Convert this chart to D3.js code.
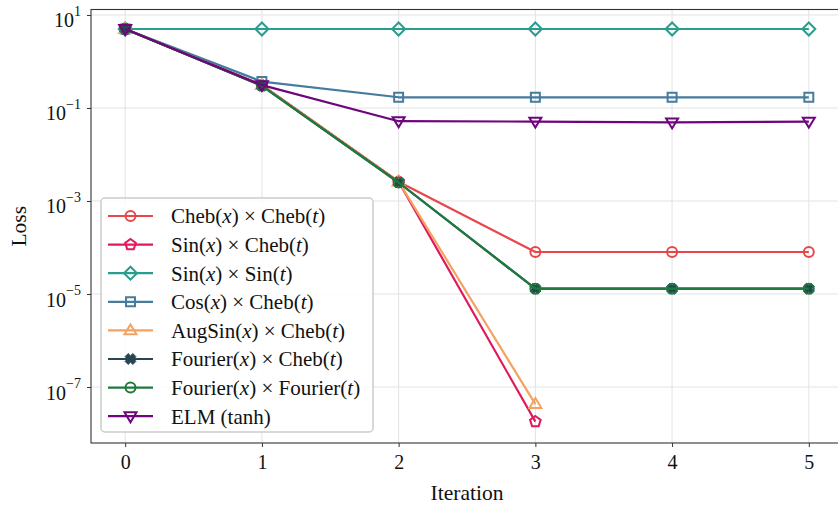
<!DOCTYPE html>
<html>
<head>
<meta charset="utf-8">
<script src="https://cdn.jsdelivr.net/npm/d3@7"></script>
<style>
  html, body { margin: 0; padding: 0; background: #fff; }
  svg { display: block; font-family: "Liberation Serif", "DejaVu Serif", serif; }
</style>
</head>
<body>
<svg id="chart" width="838" height="505"></svg>
<script>
// Training loss per outer iteration for each basis combination
const iterations = [0, 1, 2, 3, 4, 5];

const chebCheb       = [5.0, 0.31, 2.6e-3, 8.0e-5, 8.0e-5, 8.0e-5];
const sinCheb        = [5.0, 0.31, 2.6e-3, 1.8e-8];
const sinSin         = [5.0, 5.0, 5.0, 5.0, 5.0, 5.0];
const cosCheb        = [5.0, 0.37, 0.17, 0.17, 0.17, 0.17];
const augSinCheb     = [5.0, 0.31, 2.6e-3, 4.3e-8];
const fourierCheb    = [5.0, 0.30, 2.5e-3, 1.3e-5, 1.3e-5, 1.3e-5];
const fourierFourier = [5.0, 0.30, 2.5e-3, 1.3e-5, 1.3e-5, 1.3e-5];
const elmTanh        = [5.0, 0.31, 0.052, 0.051, 0.049, 0.051];

// Legend labels ($...$ marks italic variables)
const seriesLabels = [
  "Cheb($x$) × Cheb($t$)",
  "Sin($x$) × Cheb($t$)",
  "Sin($x$) × Sin($t$)",
  "Cos($x$) × Cheb($t$)",
  "AugSin($x$) × Cheb($t$)",
  "Fourier($x$) × Cheb($t$)",
  "Fourier($x$) × Fourier($t$)",
  "ELM (tanh)"
];
const seriesValues = [chebCheb, sinCheb, sinSin, cosCheb, augSinCheb, fourierCheb, fourierFourier, elmTanh];

const xTickValues = [0, 1, 2, 3, 4, 5];
const yTickExponents = [1, -1, -3, -5, -7];

// Styling per series
const seriesStyle = [
  { color: "#e8464b", symbol: "circle",   fill: "none" },
  { color: "#df1a5c", symbol: "pentagon", fill: "none" },
  { color: "#2a9d8f", symbol: "diamond",  fill: "none" },
  { color: "#457b9d", symbol: "square",   fill: "none" },
  { color: "#f4a261", symbol: "triangle", fill: "none" },
  { color: "#264653", symbol: "xfilled",  fill: "#264653" },
  { color: "#1f7a3e", symbol: "circle",   fill: "none" },
  { color: "#6e057c", symbol: "tridown",  fill: "none" }
];

const svg = d3.select("#chart");
const plotLeft = 91, plotRight = 843, plotTop = 9.5, plotBottom = 443;

const x = d3.scaleLinear().domain([-0.25, 5.25]).range([plotLeft, plotRight]);
const y = d3.scaleLog().domain([Math.pow(10, -8.204), Math.pow(10, 1.118)]).range([plotBottom, plotTop]);

// Grid
const grid = svg.append("g");
grid.selectAll("line.gx").data(xTickValues).join("line")
  .attr("x1", d => x(d)).attr("x2", d => x(d))
  .attr("y1", plotTop).attr("y2", plotBottom)
  .attr("stroke", "#e3e3e3").attr("stroke-width", 1);
grid.selectAll("line.gy").data(yTickExponents).join("line")
  .attr("x1", plotLeft).attr("x2", plotRight)
  .attr("y1", d => y(Math.pow(10, d))).attr("y2", d => y(Math.pow(10, d)))
  .attr("stroke", "#e3e3e3").attr("stroke-width", 1);

// Axes
const xAxis = d3.axisBottom(x).tickValues(xTickValues).tickFormat(d3.format("d")).tickSize(4).tickPadding(8);
const gx = svg.append("g").attr("transform", `translate(0,${plotBottom})`).call(xAxis);
gx.select(".domain").remove();
gx.selectAll(".tick line").attr("stroke", "#333");
gx.selectAll(".tick text").attr("font-size", 20).attr("fill", "#111")
  .attr("font-family", "Liberation Serif, serif");

const yAxis = d3.axisLeft(y).tickValues(yTickExponents.map(e => Math.pow(10, e))).tickSize(4).tickFormat("");
const gy = svg.append("g").attr("transform", `translate(${plotLeft},0)`).call(yAxis);
gy.select(".domain").remove();
gy.selectAll(".tick line").attr("stroke", "#333");
gy.selectAll(".tick").each(function(d) {
  const e = Math.round(Math.log10(d));
  const t = d3.select(this).select("text")
    .attr("font-size", 20).attr("fill", "#111").attr("x", -10).attr("dy", "0.6em")
    .attr("font-family", "Liberation Serif, serif");
  t.text(null);
  t.append("tspan").text("10");
  t.append("tspan").attr("dy", "-0.8em").attr("font-size", 14)
    .text(e < 0 ? "\u2212" + Math.abs(e) : String(e));
});

// Marker outlines
function symbolPath(style) {
  const s = style.symbol;
  if (s === "circle") {
    return d3.symbol().type(d3.symbolCircle).size(78)();
  }
  if (s === "square") {
    return d3.symbol().type(d3.symbolSquare).size(80)();
  }
  if (s === "triangle") {
    const r = 6;
    return `M0,${-r}L${r},${r * 0.65}L${-r},${r * 0.65}Z`;
  }
  if (s === "tridown") {
    const r = 6;
    return `M${-r},${-r * 0.65}L${r},${-r * 0.65}L0,${r}Z`;
  }
  if (s === "pentagon") {
    const r = 5.6, pts = [];
    for (let i = 0; i < 5; i++) {
      const a = -Math.PI / 2 + i * 2 * Math.PI / 5;
      pts.push([r * Math.cos(a), r * Math.sin(a)]);
    }
    return "M" + pts.map(p => p.join(",")).join("L") + "Z";
  }
  if (s === "diamond") {
    const r = 6.5;
    return `M0,${-r}L${r},0L0,${r}L${-r},0Z`;
  }
  if (s === "xfilled") {
    // thick filled X
    const a = 5.5, w = 2.2;
    const pts = [];
    for (let i = 0; i < 4; i++) {
      const ang = Math.PI / 4 + i * Math.PI / 2;
      const c = Math.cos(ang), sn = Math.sin(ang);
      const px = -sn, py = c;
      pts.push([a * c + w * px * -1, a * sn + w * py * -1]);
      pts.push([a * c + w * px, a * sn + w * py]);
      const ang2 = ang + Math.PI / 4;
      pts.push([w * 1.414 * Math.cos(ang2), w * 1.414 * Math.sin(ang2)]);
    }
    return "M" + pts.map(p => p.join(",")).join("L") + "Z";
  }
  return d3.symbol().type(d3.symbolCircle).size(78)();
}

// Lines and markers
const line = d3.line().x((d, i) => x(iterations[i])).y(d => y(d));
const plot = svg.append("g");
seriesValues.forEach((vals, k) => {
  const st = seriesStyle[k];
  const g = plot.append("g");
  g.append("path").datum(vals).attr("d", line)
    .attr("fill", "none").attr("stroke", st.color).attr("stroke-width", 2.2)
    .attr("stroke-linejoin", "round");
  const p = symbolPath(st);
  g.selectAll("path.m").data(vals).join("path").attr("class", "m")
    .attr("d", p)
    .attr("transform", (d, i) => `translate(${x(iterations[i])},${y(d)})`)
    .attr("fill", st.fill).attr("stroke", st.color)
    .attr("stroke-width", st.symbol === "xfilled" ? 1 : 2);
});

// Frame
svg.append("rect").attr("x", plotLeft).attr("y", plotTop)
  .attr("width", plotRight - plotLeft).attr("height", plotBottom - plotTop)
  .attr("fill", "none").attr("stroke", "#333").attr("stroke-width", 1.1);

// Axis titles
svg.append("text").attr("x", (plotLeft + plotRight) / 2).attr("y", 500)
  .attr("text-anchor", "middle").attr("font-size", 21.5).attr("fill", "#111").text("Iteration");
svg.append("text").attr("transform", `translate(26,${(plotTop + plotBottom) / 2}) rotate(-90)`)
  .attr("text-anchor", "middle").attr("font-size", 21.5).attr("fill", "#111").text("Loss");

// Legend
const lg = svg.append("g").attr("transform", "translate(101,198)");
lg.append("rect").attr("width", 272).attr("height", 234).attr("rx", 4)
  .attr("fill", "rgba(255,255,255,0.85)").attr("stroke", "#cccccc").attr("stroke-width", 1.5);
seriesLabels.forEach((label, k) => {
  const st = seriesStyle[k];
  const cy = 18 + k * 28.6;
  const row = lg.append("g").attr("transform", `translate(0,${cy})`);
  row.append("line").attr("x1", 7).attr("x2", 52).attr("y1", 0).attr("y2", 0)
    .attr("stroke", st.color).attr("stroke-width", 2.2);
  row.append("path").attr("d", symbolPath(st)).attr("transform", "translate(29.5,0)")
    .attr("fill", st.fill).attr("stroke", st.color)
    .attr("stroke-width", st.symbol === "xfilled" ? 1 : 2);
  const t = row.append("text").attr("x", 70).attr("y", 0).attr("dy", "0.35em")
    .attr("font-size", 21).attr("fill", "#111");
  label.split("$").forEach((seg, j) => {
    if (!seg) return;
    const ts = t.append("tspan").text(seg);
    if (j % 2 === 1) ts.attr("font-style", "italic");
  });
});
</script>
</body>
</html>
